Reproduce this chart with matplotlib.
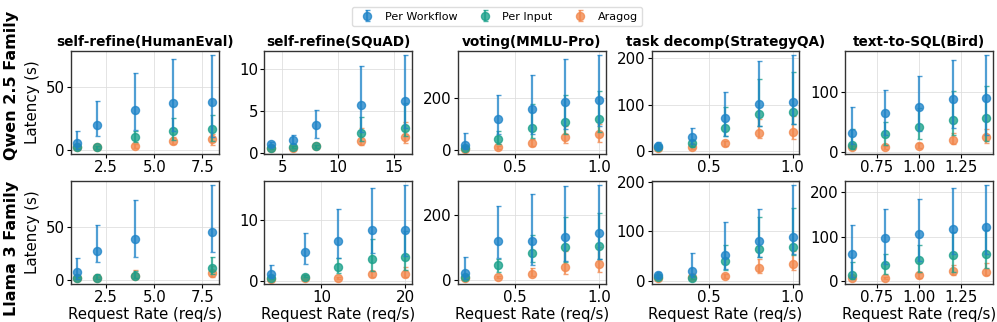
import matplotlib
matplotlib.use("Agg")
import matplotlib.pyplot as plt
import numpy as np
from matplotlib.ticker import FixedLocator

series_names = ["Per Workflow", "Per Input", "Aragog"]
colors = ["#1f84c8", "#1aa08a", "#f2874c"]

titles = ["self-refine(HumanEval)", "self-refine(SQuAD)", "voting(MMLU-Pro)",
          "task decomp(StrategyQA)", "text-to-SQL(Bird)"]
row_labels = ["Qwen 2.5 Family", "Llama 3 Family"]

# ---------------- Qwen 2.5 ----------------
q_x = [[1, 2, 4, 6, 8], [4, 6, 8, 12, 16], [0.2, 0.4, 0.6, 0.8, 1.0],
       [0.2, 0.4, 0.6, 0.8, 1.0], [0.6, 0.8, 1.0, 1.2, 1.4]]
# mean, low, high for each series  (Per Workflow, Per Input, Aragog)
q_he_wf = [5.2, 20, 32, 37, 38]; q_he_wf_lo = [0.5, 11, 15.5, 15, 10]; q_he_wf_hi = [15, 39, 61, 72, 75]
q_he_pi = [2, 2, 10.4, 15, 16.3]; q_he_pi_lo = [1, 1, 6, 8, 7]; q_he_pi_hi = [3, 3, 15, 25, 27.7]
q_he_ar = [2, 2, 3.4, 7.3, 8.5]; q_he_ar_lo = [1, 1, 1.5, 4.3, 4]; q_he_ar_hi = [3, 3, 5, 10.3, 13]

q_sq_wf = [1.06, 1.57, 3.35, 5.75, 6.25]; q_sq_wf_lo = [0.8, 1.1, 1.85, 2.5, 3.0]; q_sq_wf_hi = [1.3, 2.1, 5.1, 10.4, 11.7]
q_sq_pi = [0.65, 0.7, 0.8, 2.36, 2.95]; q_sq_pi_lo = [0.5, 0.55, 0.65, 1.5, 2.0]; q_sq_pi_hi = [0.8, 0.85, 1.0, 4.3, 6.0]
q_sq_ar = [0.6, 0.65, 0.8, 1.45, 1.97]; q_sq_ar_lo = [0.45, 0.5, 0.65, 1.0, 1.26]; q_sq_ar_hi = [0.75, 0.8, 0.95, 3.0, 3.7]

q_vo_wf = [18, 120, 155, 183, 190]; q_vo_wf_lo = [2, 60, 60, 80, 92]; q_vo_wf_hi = [64, 210, 287, 347, 363]
q_vo_pi = [8, 43, 82, 108, 117]; q_vo_pi_lo = [3, 22, 45, 60, 70]; q_vo_pi_hi = [15, 73, 175, 210, 225]
q_vo_ar = [5, 9, 28, 51, 60]; q_vo_ar_lo = [2, 5, 15, 28, 30]; q_vo_ar_hi = [9, 14, 40, 92, 100]

q_td_wf = [9.4, 29, 71.5, 101.5, 106]; q_td_wf_lo = [4, 14, 32, 54, 58]; q_td_wf_hi = [18, 49, 127, 194, 207]
q_td_pi = [7, 16, 50, 79, 84]; q_td_pi_lo = [4, 9, 32, 54, 58]; q_td_pi_hi = [12, 24, 95, 156, 171]
q_td_ar = [5, 7, 16, 39, 41]; q_td_ar_lo = [3, 4, 10, 27, 26]; q_td_ar_hi = [8, 10, 22, 68, 76]

q_ts_wf = [32, 65.6, 75.6, 88, 90.6]; q_ts_wf_lo = [13, 28, 35, 40, 28]; q_ts_wf_hi = [75, 103, 127, 154.5, 161.7]
q_ts_pi = [11, 29.5, 42, 53, 57]; q_ts_pi_lo = [5, 12, 21, 28, 18]; q_ts_pi_hi = [38, 50.5, 73, 101.7, 110]
q_ts_ar = [7, 7.3, 10, 20, 24]; q_ts_ar_lo = [4, 4, 6, 13, 15]; q_ts_ar_hi = [10, 10, 14, 32, 38]

# ---------------- Llama 3 ----------------
l_x = [[1, 2, 4, 8], [4, 8, 12, 16, 20], [0.2, 0.4, 0.6, 0.8, 1.0],
       [0.2, 0.4, 0.6, 0.8, 1.0], [0.6, 0.8, 1.0, 1.2, 1.4]]
l_he_wf = [7.8, 27, 39, 45]; l_he_wf_lo = [0.5, 17, 22, 26]; l_he_wf_hi = [21, 52, 75.6, 89.7]
l_he_pi = [2, 2, 4, 11]; l_he_pi_lo = [1, 1, 2, 6]; l_he_pi_hi = [3, 6, 8, 21.6]
l_he_ar = [2, 2, 3.8, 6.3]; l_he_ar_lo = [1, 1, 2, 3]; l_he_ar_hi = [3, 3, 9, 13]

l_sq_wf = [1.15, 4.64, 6.55, 8.36, 8.36]; l_sq_wf_lo = [0.4, 2.7, 3.7, 4.5, 4.0]; l_sq_wf_hi = [2.5, 7.9, 11.8, 15.2, 15.7]
l_sq_pi = [0.4, 0.65, 2.25, 3.6, 3.93]; l_sq_pi_lo = [0.3, 0.5, 1.2, 1.6, 1.7]; l_sq_pi_hi = [0.55, 0.85, 3.7, 6.8, 8.1]
l_sq_ar = [0.3, 0.35, 0.45, 1.0, 1.15]; l_sq_ar_lo = [0.2, 0.25, 0.3, 0.5, 0.6]; l_sq_ar_hi = [0.4, 0.45, 0.6, 1.6, 2.2]

l_vo_wf = [20.4, 120, 120, 132, 144]; l_vo_wf_lo = [1, 66, 45, 57, 64]; l_vo_wf_hi = [71, 228, 266, 289, 292]
l_vo_pi = [8, 46, 83, 100, 103]; l_vo_pi_lo = [3, 25, 56, 55, 64]; l_vo_pi_hi = [15, 65, 138, 195, 207]
l_vo_ar = [5, 8, 18, 39, 49]; l_vo_ar_lo = [2, 4, 10, 18, 25]; l_vo_ar_hi = [9, 12, 35, 90, 100]

l_td_wf = [11.4, 19, 51.7, 80.5, 88.6]; l_td_wf_lo = [6, 8, 23, 48, 53.7]; l_td_wf_hi = [17, 56, 119.6, 146, 193]
l_td_pi = [8, 6, 40, 64, 69]; l_td_pi_lo = [5, 4, 22, 48, 52]; l_td_pi_hi = [12, 9, 72, 129.6, 147.7]
l_td_ar = [5, 7, 9, 25.5, 33.5]; l_td_ar_lo = [3, 4, 6, 15, 22]; l_td_ar_hi = [8, 10, 13, 45, 60]

l_ts_wf = [61, 97, 107, 117, 121]; l_ts_wf_lo = [10, 38, 45, 60, 60]; l_ts_wf_hi = [127, 162, 185, 210, 216]
l_ts_pi = [13.4, 36, 48.5, 58, 61]; l_ts_pi_lo = [5, 17, 20, 20, 30]; l_ts_pi_hi = [43, 60, 82, 110, 115]
l_ts_ar = [7, 7, 13.4, 22, 21]; l_ts_ar_lo = [4, 4, 8, 13, 14]; l_ts_ar_hi = [10, 10, 19, 37, 41]

data = [
    [
        [(q_he_wf, q_he_wf_lo, q_he_wf_hi), (q_he_pi, q_he_pi_lo, q_he_pi_hi), (q_he_ar, q_he_ar_lo, q_he_ar_hi)],
        [(q_sq_wf, q_sq_wf_lo, q_sq_wf_hi), (q_sq_pi, q_sq_pi_lo, q_sq_pi_hi), (q_sq_ar, q_sq_ar_lo, q_sq_ar_hi)],
        [(q_vo_wf, q_vo_wf_lo, q_vo_wf_hi), (q_vo_pi, q_vo_pi_lo, q_vo_pi_hi), (q_vo_ar, q_vo_ar_lo, q_vo_ar_hi)],
        [(q_td_wf, q_td_wf_lo, q_td_wf_hi), (q_td_pi, q_td_pi_lo, q_td_pi_hi), (q_td_ar, q_td_ar_lo, q_td_ar_hi)],
        [(q_ts_wf, q_ts_wf_lo, q_ts_wf_hi), (q_ts_pi, q_ts_pi_lo, q_ts_pi_hi), (q_ts_ar, q_ts_ar_lo, q_ts_ar_hi)],
    ],
    [
        [(l_he_wf, l_he_wf_lo, l_he_wf_hi), (l_he_pi, l_he_pi_lo, l_he_pi_hi), (l_he_ar, l_he_ar_lo, l_he_ar_hi)],
        [(l_sq_wf, l_sq_wf_lo, l_sq_wf_hi), (l_sq_pi, l_sq_pi_lo, l_sq_pi_hi), (l_sq_ar, l_sq_ar_lo, l_sq_ar_hi)],
        [(l_vo_wf, l_vo_wf_lo, l_vo_wf_hi), (l_vo_pi, l_vo_pi_lo, l_vo_pi_hi), (l_vo_ar, l_vo_ar_lo, l_vo_ar_hi)],
        [(l_td_wf, l_td_wf_lo, l_td_wf_hi), (l_td_pi, l_td_pi_lo, l_td_pi_hi), (l_td_ar, l_td_ar_lo, l_td_ar_hi)],
        [(l_ts_wf, l_ts_wf_lo, l_ts_wf_hi), (l_ts_pi, l_ts_pi_lo, l_ts_pi_hi), (l_ts_ar, l_ts_ar_lo, l_ts_ar_hi)],
    ],
]
xs = [q_x, l_x]

xticks = [
    [[2.5, 5.0, 7.5], [5, 10, 15], [0.5, 1.0], [0.5, 1.0], [0.75, 1.00, 1.25]],
    [[2.5, 5.0, 7.5], [10, 20], [0.5, 1.0], [0.5, 1.0], [0.75, 1.00, 1.25]],
]
xticklabels = [
    [["2.5", "5.0", "7.5"], ["5", "10", "15"], ["0.5", "1.0"], ["0.5", "1.0"], ["0.75", "1.00", "1.25"]],
    [["2.5", "5.0", "7.5"], ["10", "20"], ["0.5", "1.0"], ["0.5", "1.0"], ["0.75", "1.00", "1.25"]],
]
yticks = [
    [[0, 50], [0, 5, 10], [0, 200], [0, 100, 200], [0, 100]],
    [[0, 50], [0, 10], [0, 200], [0, 100, 200], [0, 100, 200]],
]

fig, axes = plt.subplots(2, 5, figsize=(9.97, 3.22), dpi=100)
fig.subplots_adjust(left=0.0709, right=0.996, top=0.843, bottom=0.118,
                    wspace=0.309, hspace=0.257)

handles = []
for r in range(2):
    for c in range(5):
        ax = axes[r, c]
        x = xs[r][c]
        for s in range(3):
            m, lo, hi = data[r][c][s]
            m = np.array(m, float); lo = np.array(lo, float); hi = np.array(hi, float)
            yerr = np.vstack([m - lo, hi - m])
            eb = ax.errorbar(x, m, yerr=yerr, fmt='o', color=colors[s], ecolor=colors[s],
                             markersize=5.8, alpha=0.78, elinewidth=1.6, capsize=1.8,
                             capthick=1.0, zorder=3 - s)
            if r == 0 and c == 0:
                handles.append(eb)
        ax.grid(True, color="#dddddd", linewidth=0.7, alpha=0.8)
        ax.set_axisbelow(True)
        ax.xaxis.set_major_locator(FixedLocator(xticks[r][c]))
        ax.set_xticklabels(xticklabels[r][c])
        ax.yaxis.set_major_locator(FixedLocator(yticks[r][c]))
        ax.tick_params(labelsize=10.8, length=3, pad=1.5)
        for sp in ax.spines.values():
            sp.set_color("#333333")
            sp.set_linewidth(1.0)
        if r == 0:
            ax.set_title(titles[c], fontsize=9.8, fontweight="bold", pad=3)
        if r == 1:
            ax.set_xlabel("Request Rate (req/s)", fontsize=10.8, labelpad=1)
        if c == 0:
            ax.set_ylabel("Latency (s)", fontsize=10.8, labelpad=4)

fig.text(0.012, 0.736, row_labels[0], rotation=90, fontsize=11.5,
         fontweight="bold", ha="center", va="center")
fig.text(0.012, 0.230, row_labels[1], rotation=90, fontsize=11.5,
         fontweight="bold", ha="center", va="center")

fig.legend(handles, series_names, loc="upper center", ncol=3, fontsize=8,
           bbox_to_anchor=(0.4985, 0.995), frameon=True, columnspacing=1.5,
           handletextpad=0.55, borderpad=0.4, framealpha=1.0, edgecolor="#dddddd")

fig.savefig("out.png", dpi=100)
